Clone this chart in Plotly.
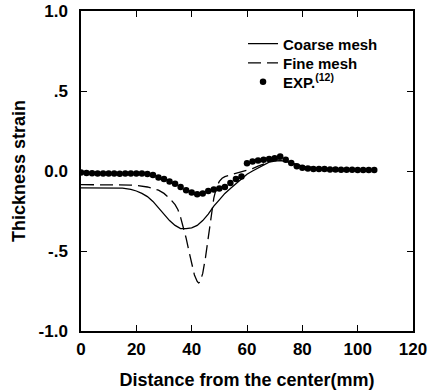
import plotly.graph_objects as go

# Coarse mesh (solid line)
coarse_x = [0, 5, 10, 15, 18, 20, 22, 24, 26, 28, 30, 32, 34, 36, 38, 40, 42, 44, 46, 48,
            50, 52, 54, 56, 58, 60, 62, 64, 66, 68, 70, 72, 74, 76, 78, 80, 85, 90, 95, 100, 105]
coarse_y = [-0.105, -0.105, -0.105, -0.107, -0.115, -0.125, -0.14, -0.16, -0.19, -0.23, -0.27,
            -0.31, -0.34, -0.36, -0.36, -0.355, -0.34, -0.31, -0.27, -0.22, -0.18, -0.14, -0.11,
            -0.08, -0.05, -0.02, 0.0, 0.02, 0.04, 0.055, 0.062, 0.065, 0.06, 0.05, 0.04, 0.03,
            0.015, 0.01, 0.008, 0.005, 0.005]

# Fine mesh (dashed line)
fine_x = [0, 5, 10, 15, 18, 20, 22, 24, 26, 28, 30, 32, 34, 35, 36, 37, 38, 39, 40, 41, 42, 42.5,
          43, 44, 45, 46, 47, 48, 49, 50, 51, 52, 54, 56, 58, 60, 62, 64, 66, 68, 70, 72, 74, 76,
          78, 80, 85, 90, 95, 100, 105]
fine_y = [-0.085, -0.085, -0.085, -0.086, -0.088, -0.09, -0.095, -0.10, -0.11, -0.12, -0.14,
          -0.17, -0.21, -0.24, -0.29, -0.35, -0.42, -0.50, -0.58, -0.65, -0.69, -0.70, -0.695,
          -0.64, -0.54, -0.42, -0.28, -0.17, -0.10, -0.065, -0.045, -0.035, -0.025, -0.015,
          -0.005, 0.005, 0.015, 0.03, 0.045, 0.06, 0.07, 0.07, 0.06, 0.05, 0.04, 0.03, 0.02,
          0.012, 0.008, 0.005, 0.005]

# Experimental data
exp_x = [0, 2, 4, 6, 8, 10, 12, 14, 16, 18, 20, 22, 24, 26, 28, 30, 32, 34, 36, 38, 40, 42, 44,
         46, 48, 50, 52, 54, 56, 58, 60, 62, 64, 66, 68, 70, 72, 74, 76, 78, 80, 82, 84, 86, 88,
         90, 92, 94, 96, 98, 100, 102, 104, 106]
exp_y = [-0.01, -0.012, -0.014, -0.015, -0.015, -0.016, -0.016, -0.017, -0.016, -0.016, -0.015,
         -0.016, -0.018, -0.025, -0.04, -0.05, -0.065, -0.08, -0.10, -0.12, -0.135, -0.145,
         -0.14, -0.125, -0.115, -0.11, -0.10, -0.075, -0.05, -0.035, 0.048, 0.06, 0.065, 0.07,
         0.075, 0.08, 0.09, 0.07, 0.05, 0.03, 0.02, 0.015, 0.013, 0.012, 0.012, 0.01, 0.01,
         0.008, 0.008, 0.008, 0.007, 0.007, 0.006, 0.006]

x_ticks = [0, 20, 40, 60, 80, 100, 120]
y_ticks = [-1.0, -0.5, 0.0, 0.5, 1.0]
y_ticktext = ["-1.0", "-.5", "0.0", ".5", "1.0"]

FONT = "Liberation Sans"
LEG_FONT = dict(family=FONT, size=15, color="black", weight="bold")

fig = go.Figure()
fig.add_trace(go.Scatter(x=coarse_x, y=coarse_y, mode="lines", name="Coarse mesh",
                         line=dict(color="black", width=1.3), legend="legend"))
fig.add_trace(go.Scatter(x=fine_x, y=fine_y, mode="lines", name="Fine mesh",
                         line=dict(color="black", width=1.3, dash="13px,6px"),
                         legend="legend2"))
fig.add_trace(go.Scatter(x=exp_x, y=exp_y, mode="markers", name="EXP.<sup>(12)</sup>",
                         marker=dict(color="black", size=6.5), legend="legend3"))

axis_common = dict(showline=True, linecolor="black", linewidth=1.5, mirror="ticks",
                   ticks="inside", ticklen=6, tickwidth=1.2, tickcolor="black",
                   showgrid=False, zeroline=False, automargin=False,
                   tickfont=dict(family=FONT, size=17, color="black", weight="bold"))

leg_common = dict(x=0.488, xanchor="left", yanchor="middle",
                  bgcolor="rgba(0,0,0,0)", font=LEG_FONT)

fig.update_layout(
    width=436, height=391,
    margin=dict(l=81, r=23, t=11, b=60),
    paper_bgcolor="white", plot_bgcolor="white",
    showlegend=True,
    legend=dict(y=0.897, **leg_common),
    legend2=dict(y=0.837, **leg_common),
    legend3=dict(y=0.778, **leg_common),
    xaxis=dict(range=[0, 120], tickvals=x_ticks, ticklabelstandoff=2, **axis_common,
               title=dict(text="Distance from the center(mm)", standoff=15,
                          font=dict(family=FONT, size=18, color="black", weight="bold"))),
    yaxis=dict(range=[-1.0, 1.0], tickvals=y_ticks, ticktext=y_ticktext,
               ticklabelstandoff=8, **axis_common,
               title=dict(text="Thickness strain", standoff=8,
                          font=dict(family=FONT, size=18, color="black", weight="bold"))),
)

fig.write_html("out.html")
